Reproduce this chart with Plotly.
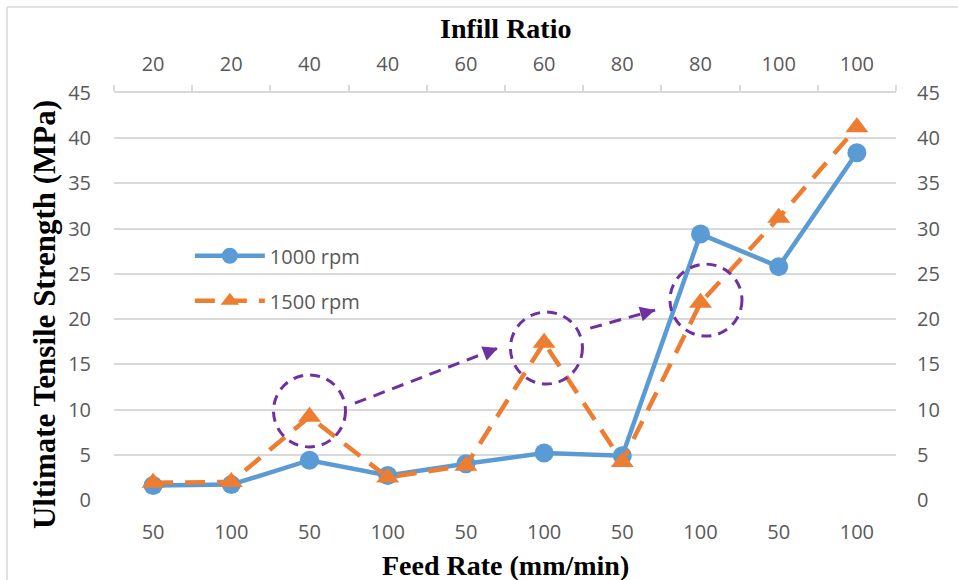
import plotly.graph_objects as go

# ---------------- data ----------------
feed_rate = ["50", "100", "50", "100", "50", "100", "50", "100", "50", "100"]
infill_ratio = ["20", "20", "40", "40", "60", "60", "80", "80", "100", "100"]
rpm1000 = [1.6, 1.7, 4.4, 2.7, 4.0, 5.2, 4.9, 29.4, 25.8, 38.4]
rpm1500 = [1.9, 2.0, 9.2, 2.5, 3.8, 17.4, 4.2, 21.8, 31.2, 41.2]

# highlighted points (category index, value) and arrows between them
circle_x = [2.0, 5.03, 7.07]
circle_y = [9.85, 16.8, 22.1]
arrow_from_x = [2.58, 5.59]
arrow_from_y = [10.7, 19.0]
arrow_to_x = [4.41, 6.42]
arrow_to_y = [16.8, 21.0]
arrow_head_frac = [0.10, 0.22]

y_ticks = list(range(0, 50, 5))
idx = list(range(len(feed_rate)))

BLUE = "#5B9BD5"
ORANGE = "#ED7D31"
PURPLE = "#7030A0"
GRID = "#D9D9D9"
TICKC = "#595959"
TICKFONT = dict(family="Open Sans", size=20, color=TICKC)
TITLEFONT = dict(family="Liberation Serif", size=28, color="black")
YTITLEFONT = dict(family="Liberation Serif", size=31, color="black")

fig = go.Figure()

fig.add_trace(go.Scatter(
    x=idx, y=rpm1000, name="1000 rpm", mode="lines+markers",
    line=dict(color=BLUE, width=4.5),
    marker=dict(symbol="circle", size=19, color=BLUE),
    legendgroup="a",
))
fig.add_trace(go.Scatter(
    x=idx, y=rpm1500, name="1500 rpm", mode="lines+markers",
    line=dict(color=ORANGE, width=4.5, dash="20px,12px"),
    marker=dict(symbol="triangle-up", size=20, color=ORANGE),
    legendgroup="b",
))

# dashed arrow shafts
for fx, fy, tx, ty in zip(arrow_from_x, arrow_from_y, arrow_to_x, arrow_to_y):
    fig.add_trace(go.Scatter(
        x=[fx, tx], y=[fy, ty], mode="lines", showlegend=False, hoverinfo="skip",
        line=dict(color=PURPLE, width=3, dash="12px,8px"),
    ))

# invisible traces to activate the secondary axes
fig.add_trace(go.Scatter(x=idx, y=rpm1000, xaxis="x2", yaxis="y", mode="markers",
                         marker=dict(opacity=0), showlegend=False, hoverinfo="skip"))
fig.add_trace(go.Scatter(x=idx, y=rpm1000, xaxis="x", yaxis="y2", mode="markers",
                         marker=dict(opacity=0), showlegend=False, hoverinfo="skip"))

shapes = []
for cx, cy in zip(circle_x, circle_y):
    shapes.append(dict(
        type="circle", xref="x", yref="y", xsizemode="pixel", ysizemode="pixel",
        xanchor=cx, yanchor=cy, x0=-36, x1=36, y0=-36, y1=36,
        line=dict(color=PURPLE, width=3, dash="10px,7px"), layer="above",
    ))
# chart-area border (top and left edges visible)
shapes.append(dict(type="line", xref="paper", yref="paper", x0=-0.1368, x1=1.2, y0=1.2113, y1=1.2113,
                   line=dict(color=GRID, width=1.5)))
shapes.append(dict(type="line", xref="paper", yref="paper", x0=-0.1368, x1=-0.1368, y0=1.2113, y1=-0.3,
                   line=dict(color=GRID, width=1.5)))

annotations = []
for fx, fy, tx, ty, fr in zip(arrow_from_x, arrow_from_y, arrow_to_x, arrow_to_y, arrow_head_frac):
    annotations.append(dict(
        x=tx, y=ty, xref="x", yref="y", axref="x", ayref="y",
        ax=tx - fr * (tx - fx), ay=ty - fr * (ty - fy),
        showarrow=True, arrowhead=2, arrowsize=1, arrowwidth=3, arrowcolor=PURPLE, text="",
    ))
annotations += [
    dict(text="<b>Ultimate Tensile Strength (MPa)</b>", textangle=-90, xref="paper", yref="paper",
         x=-0.0895, y=0.4545, xanchor="center", yanchor="middle", showarrow=False, font=YTITLEFONT),
    dict(text="<b>Feed Rate (mm/min)</b>", xref="paper", yref="paper",
         x=0.5, y=-0.16, xanchor="center", yanchor="middle", showarrow=False, font=TITLEFONT),
    dict(text="<b>Infill Ratio</b>", xref="paper", yref="paper",
         x=0.5, y=1.158, xanchor="center", yanchor="middle", showarrow=False, font=TITLEFONT),
]

fig.update_layout(
    width=958, height=580,
    margin=dict(l=114, r=62, t=93, b=80),
    paper_bgcolor="white", plot_bgcolor="white",
    showlegend=True,
    legend=dict(x=0.097, y=0.648, xanchor="left", yanchor="top", font=TICKFONT,
                bgcolor="rgba(0,0,0,0)", traceorder="grouped", tracegroupgap=16, itemwidth=70),
    xaxis=dict(range=[-0.5, 9.5], tickmode="array", tickvals=idx, ticktext=feed_rate,
               showgrid=False, zeroline=False, showline=False, ticks="",
               ticklabelstandoff=18, tickfont=TICKFONT, fixedrange=True),
    xaxis2=dict(range=[-0.5, 9.5], overlaying="x", side="top", tickmode="array", tickvals=idx,
                ticktext=infill_ratio, showgrid=False, zeroline=False, showline=True,
                linecolor=GRID, linewidth=1.5, ticks="", ticklabelstandoff=12, tickfont=TICKFONT,
                minor=dict(ticks="outside", ticklen=6, tickcolor=GRID, tickwidth=1.5,
                           tickmode="linear", tick0=-0.5, dtick=1)),
    yaxis=dict(range=[0, 45], tickmode="array", tickvals=y_ticks, showgrid=True, gridcolor=GRID,
               gridwidth=1.5, zeroline=False, showline=False, ticks="", ticklabelstandoff=22,
               tickfont=TICKFONT),
    yaxis2=dict(range=[0, 45], overlaying="y", side="right", tickmode="array", tickvals=y_ticks,
                showgrid=False, zeroline=False, showline=False, ticks="", ticklabelstandoff=20,
                tickfont=TICKFONT),
    shapes=shapes,
    annotations=annotations,
)

fig.write_html("out.html")
